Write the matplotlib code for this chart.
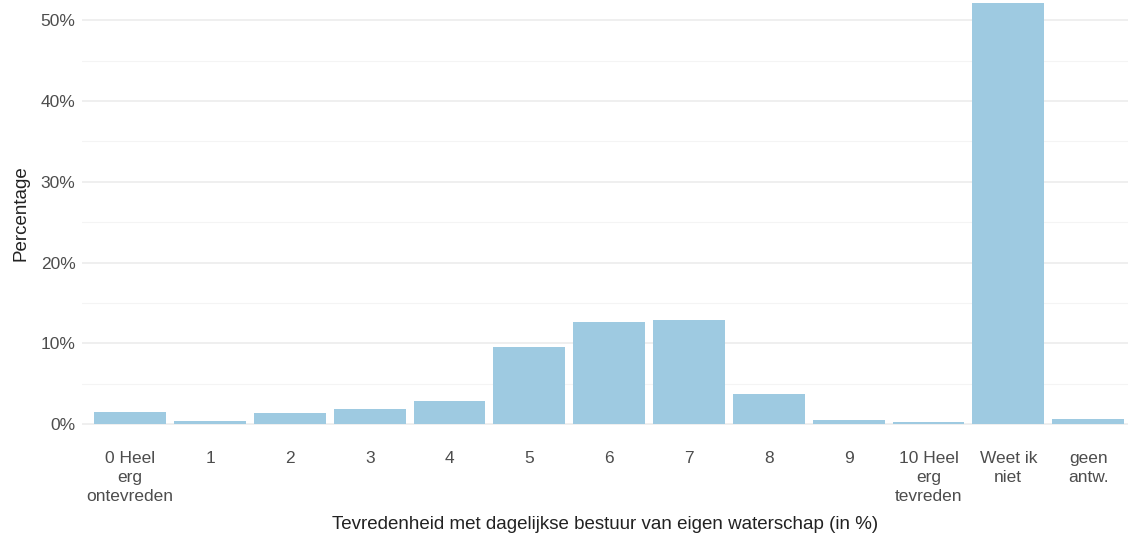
import matplotlib.pyplot as plt
from matplotlib.ticker import FuncFormatter, MultipleLocator

categories = ['0 Heel\nerg\nontevreden', '1', '2', '3', '4', '5', '6', '7', '8', '9',
              '10 Heel\nerg\ntevreden', 'Weet ik\nniet', 'geen\nantw.']
percentages = [1.5, 0.4, 1.4, 1.9, 2.8, 9.5, 12.6, 12.9, 3.7, 0.5, 0.3, 52.1, 0.6]

plt.rcParams['font.family'] = ['Liberation Sans', 'DejaVu Sans']

fig = plt.figure(figsize=(11.28, 5.38), dpi=100)
ax = fig.add_axes([0.073, 0.208, 0.927, 0.792])

x = range(len(categories))
ax.bar(x, percentages, width=0.9, color='#9ecae1', zorder=2)

ax.set_xlim(-0.6, len(categories) - 0.5)
ax.set_ylim(-0.25, 52.5)

ax.yaxis.set_major_locator(MultipleLocator(10))
ax.yaxis.set_minor_locator(MultipleLocator(5))
ax.yaxis.set_major_formatter(FuncFormatter(lambda v, p: '%d%%' % v))
ax.grid(axis='y', which='major', color='#ebebeb', linewidth=1.1, zorder=0)
ax.grid(axis='y', which='minor', color='#f4f4f4', linewidth=0.8, zorder=0)

ax.set_xticks(list(x))
ax.set_xticklabels(categories, fontsize=12.5, color='#4d4d4d', linespacing=1.35)
ax.tick_params(axis='x', length=0, pad=18)
ax.tick_params(axis='y', which='both', length=0, pad=5, labelsize=12.5, labelcolor='#4d4d4d')

for s in ax.spines.values():
    s.set_visible(False)

ax.set_ylabel('Percentage', fontsize=13.5, color='#222222', labelpad=8)
ax.set_xlabel('Tevredenheid met dagelijkse bestuur van eigen waterschap (in %)',
              fontsize=13.5, color='#222222', labelpad=8)

fig.savefig('out.png', dpi=100, facecolor='white')
